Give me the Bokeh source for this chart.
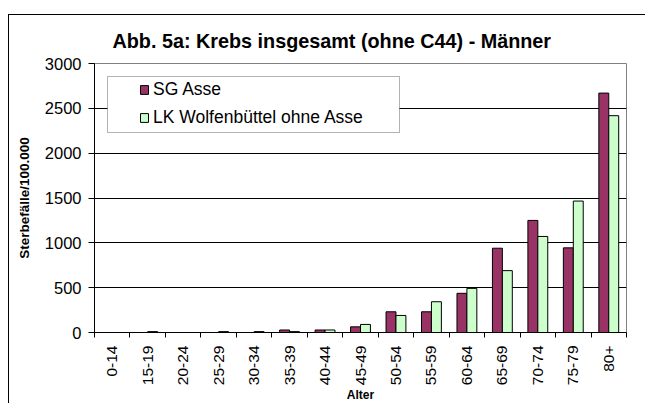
import math
from bokeh.plotting import figure
from bokeh.models import (ColumnDataSource, Range1d, FixedTicker, Legend, LegendItem,
                          BoxAnnotation)
from bokeh.transform import dodge
from bokeh.embed import file_html
from bokeh.resources import INLINE

# ---- data ----
categories = ["0-14", "15-19", "20-24", "25-29", "30-34", "35-39", "40-44", "45-49",
              "50-54", "55-59", "60-64", "65-69", "70-74", "75-79", "80+"]
sg_asse = [0, 0, 0, 0, 0, 28, 28, 63, 231, 231, 437, 940, 1250, 944, 2670]
lk_wolfenbuettel = [0, 10, 0, 10, 10, 10, 28, 90, 190, 343, 492, 690, 1071, 1466, 2418]
y_ticks = [0, 500, 1000, 1500, 2000, 2500, 3000]
series_names = ["SG Asse", "LK Wolfenbüttel ohne Asse"]
title_text = "Abb. 5a: Krebs insgesamt (ohne C44) - Männer"
y_label_text = "Sterbefälle/100.000"
x_label_text = "Alter"

FONT = "Liberation Sans"
SG_COLOR = "#993366"
LK_COLOR = "#CCFFCC"

centers = [i + 0.5 for i in range(len(categories))]
bounds = list(range(len(categories) + 1))
src = ColumnDataSource(dict(x=centers, sg=sg_asse, lk=lk_wolfenbuettel))

p = figure(width=645, height=405, output_backend="svg", toolbar_location=None,
           x_range=Range1d(0, len(categories)), y_range=Range1d(0, 3000),
           min_border_left=94, min_border_right=19, min_border_top=63, min_border_bottom=73)
# outer chart frame (left and top edges) painted behind a transparent border area
p.styles = {"background": ("linear-gradient(#000, #000) 8px 14px / 100% 1px no-repeat, "
                           "linear-gradient(#000, #000) 8px 14px / 1px 389px no-repeat, #fff")}
p.background_fill_color = "white"
p.border_fill_alpha = 0
p.outline_line_color = "#808080"
p.outline_line_width = 1

r_sg = p.vbar(x=dodge("x", -0.14, range=p.x_range), top="sg", width=0.28, source=src,
              fill_color=SG_COLOR, line_color="black", line_width=1)
r_lk = p.vbar(x=dodge("x", 0.14, range=p.x_range), top="lk", width=0.28, source=src,
              fill_color=LK_COLOR, line_color="black", line_width=1)

# title
p.title.text = title_text
p.title.align = "left"
p.title.offset = 18
p.title.standoff = 24
p.title.text_font = FONT
p.title.text_font_size = "19.8px"
p.title.text_font_style = "bold"
p.title.text_color = "black"

# y axis
p.yaxis.ticker = FixedTicker(ticks=y_ticks)
p.yaxis.axis_line_color = "black"
p.yaxis.major_tick_line_color = "black"
p.yaxis.major_tick_out = 6
p.yaxis.major_tick_in = 0
p.yaxis.minor_tick_line_color = None
p.yaxis.major_label_standoff = 7
p.yaxis.major_label_text_font = FONT
p.yaxis.major_label_text_font_size = "16.5px"
p.yaxis.major_label_text_color = "black"
p.yaxis.axis_label = y_label_text
p.yaxis.axis_label_text_font = FONT
p.yaxis.axis_label_text_font_size = "13.5px"
p.yaxis.axis_label_text_font_style = "bold"
p.yaxis.axis_label_text_color = "black"
p.yaxis.axis_label_standoff = 10

# x axis: labels at centers, ticks at boundaries
p.xaxis.ticker = FixedTicker(ticks=centers, minor_ticks=bounds)
p.xaxis.major_label_overrides = {c: lab for c, lab in zip(centers, categories)}
p.xaxis.major_tick_out = 0
p.xaxis.major_tick_in = 0
p.xaxis.minor_tick_out = 5
p.xaxis.minor_tick_in = 0
p.xaxis.minor_tick_line_color = "black"
p.xaxis.axis_line_color = "black"
p.xaxis.major_label_orientation = math.pi / 2
p.xaxis.major_label_standoff = 8
p.xaxis.major_label_text_font = FONT
p.xaxis.major_label_text_font_size = "15.5px"
p.xaxis.major_label_text_color = "black"
p.xaxis.axis_label = x_label_text
p.xaxis.axis_label_text_font = FONT
p.xaxis.axis_label_text_font_size = "12px"
p.xaxis.axis_label_text_font_style = "bold"
p.xaxis.axis_label_text_color = "black"
p.xaxis.axis_label_standoff = 0

p.xgrid.visible = False
p.ygrid.grid_line_color = "black"
p.ygrid.grid_line_width = 1

# legend frame
box = BoxAnnotation(left=13, right=305, bottom=200, top=256,
                    left_units="screen", right_units="screen",
                    bottom_units="screen", top_units="screen",
                    fill_color="white", fill_alpha=1.0, line_color="black", line_width=1)
p.add_layout(box)

legend = Legend(items=[LegendItem(label=series_names[0], renderers=[r_sg]),
                       LegendItem(label=series_names[1], renderers=[r_lk])],
                location=(45, 204), padding=0, spacing=7, margin=0,
                glyph_width=10, glyph_height=11, label_standoff=4, label_height=20,
                label_text_font=FONT, label_text_font_size="17.5px",
                label_text_color="black",
                border_line_color=None, background_fill_alpha=0)
p.add_layout(legend, "center")

open("out.html", "w").write(file_html(p, INLINE))
